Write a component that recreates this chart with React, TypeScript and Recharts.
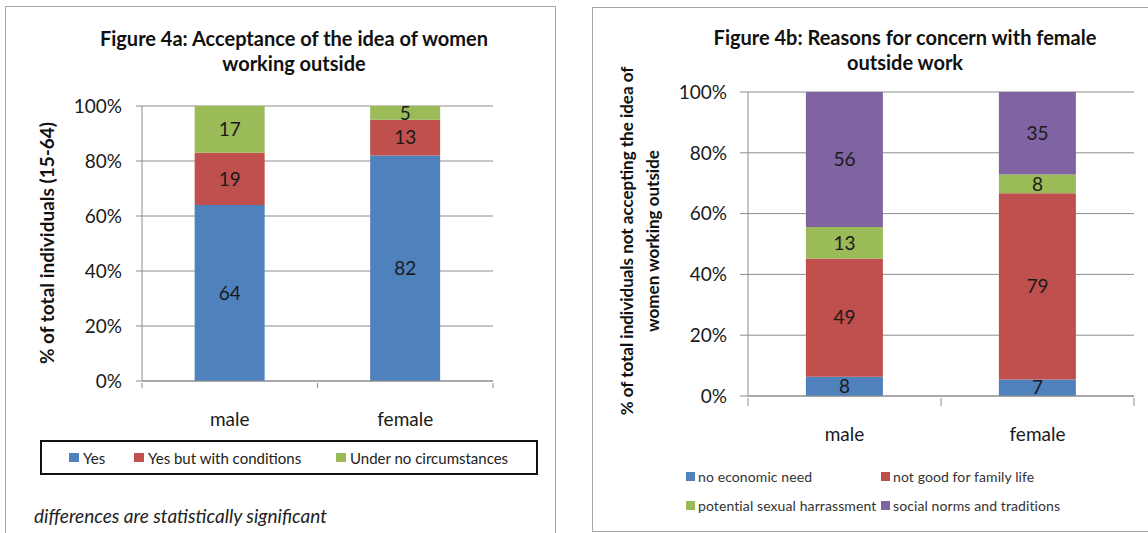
import { BarChart, Bar, XAxis, YAxis, CartesianGrid, Legend, LabelList } from "recharts";

// shared categories and y ticks
const categories = ["male", "female"];
const percentTicks = [0, 0.2, 0.4, 0.6, 0.8, 1];

// Figure 4a
const seriesA = ["Yes", "Yes but with conditions", "Under no circumstances"];
const yesValues = [64, 82];
const conditionValues = [19, 13];
const neverValues = [17, 5];

// Figure 4b (multiple answers, bars drawn as 100% stacks)
const seriesB = ["no economic need", "not good for family life", "potential sexual harrassment", "social norms and traditions"];
const noNeedValues = [8, 7];
const familyValues = [49, 79];
const harassValues = [13, 8];
const normsValues = [56, 35];

const BLUE = "#4f81bd";
const RED = "#c0504d";
const GREEN = "#9bbb59";
const PURPLE = "#8064a2";
const GRID = "#8c8c8c";
const FONT = "Lato, 'Open Sans', sans-serif";

const dataA = categories.map((c, i) => ({
  cat: c,
  yes: yesValues[i],
  cond: conditionValues[i],
  never: neverValues[i],
}));

const dataB = categories.map((c, i) => ({
  cat: c,
  noNeed: noNeedValues[i],
  family: familyValues[i],
  harass: harassValues[i],
  norms: normsValues[i],
}));

const pct = (v: number) => `${Math.round(v * 100)}%`;

// keep legend entries in series order
const ordered = (payload: any[] | undefined, names: string[]) =>
  [...(payload || [])].sort((a, b) => names.indexOf(a.value) - names.indexOf(b.value));

// category label plus "between categories" tick marks like Excel
function CategoryTick(props: any) {
  const { x, y, payload, index, visibleTicksCount, width, tickLen } = props;
  const half = payload.offset ? payload.offset : width / visibleTicksCount / 2;
  return (
    <g>
      <line x1={x - half} x2={x - half} y1={y} y2={y + tickLen} stroke={GRID} />
      {index === visibleTicksCount - 1 && (
        <line x1={x + half} x2={x + half} y1={y} y2={y + tickLen} stroke={GRID} />
      )}
      <text x={x} y={y + 35} textAnchor="middle" dominantBaseline="central" fontSize={19} fill="#1a1a1a">
        {payload.value}
      </text>
    </g>
  );
}

const labelStyle = { fontSize: 19, fill: "#1a1a1a" };

function LegendA({ payload }: any) {
  const widths = [65, 202, 200];
  return (
    <div
      style={{
        border: "2px solid #111",
        width: 498,
        height: 35,
        boxSizing: "border-box",
        display: "flex",
        alignItems: "center",
        paddingLeft: 27,
        fontSize: 15,
        color: "#222",
        whiteSpace: "nowrap",
      }}
    >
      {ordered(payload, seriesA).map((p: any, i: number) => (
        <div key={p.value} style={{ width: widths[i], flexShrink: 0, display: "flex", alignItems: "center" }}>
          <span style={{ width: 10, height: 9, background: p.color, marginRight: 4, display: "inline-block", flexShrink: 0 }} />
          {p.value}
        </div>
      ))}
    </div>
  );
}

function LegendB({ payload }: any) {
  return (
    <div
      style={{
        display: "grid",
        width: 440,
        gridTemplateColumns: "195px 245px",
        gridAutoRows: "29px",
        fontSize: 14,
        color: "#333",
        letterSpacing: 0.1,
        whiteSpace: "nowrap",
      }}
    >
      {ordered(payload, seriesB).map((p: any) => (
        <div key={p.value} style={{ display: "flex", alignItems: "center" }}>
          <span style={{ width: 9, height: 9, background: p.color, marginRight: 3, display: "inline-block", flexShrink: 0 }} />
          {p.value}
        </div>
      ))}
    </div>
  );
}

const abs = (left: number, top: number, extra: any = {}) => ({ position: "absolute" as const, left, top, ...extra });

export default function App() {
  return (
    <div style={{ position: "absolute", left: 0, top: 0, width: 1148, height: 533, overflow: "hidden", background: "#fff", fontFamily: FONT }}>
      {/* panel frames */}
      <div style={abs(5, 6, { width: 549, height: 600, border: "1px solid #a6a6a6" })} />
      <div style={abs(592, 7, { width: 620, height: 523, border: "1px solid #a6a6a6" })} />

      {/* titles */}
      <div style={abs(64, 26, { width: 460, textAlign: "center", fontSize: 20, fontWeight: 700, lineHeight: "25px", color: "#111" })}>
        Figure 4a: Acceptance of the idea of women
        <br />
        working outside
      </div>
      <div style={abs(675, 25, { width: 460, textAlign: "center", fontSize: 20, fontWeight: 700, lineHeight: "25px", color: "#111" })}>
        Figure 4b: Reasons for concern with female
        <br />
        outside work
      </div>

      {/* y axis titles */}
      <div
        style={abs(46, 243, {
          transform: "translate(-50%, -50%) rotate(-90deg)",
          whiteSpace: "nowrap",
          fontSize: 19,
          fontWeight: 700,
          color: "#111",
        })}
      >
        % of total individuals (15-64)
      </div>
      <div
        style={abs(640, 241, {
          transform: "translate(-50%, -50%) rotate(-90deg)",
          whiteSpace: "nowrap",
          textAlign: "center",
          fontSize: 17,
          fontWeight: 700,
          lineHeight: "26px",
          color: "#111",
        })}
      >
        % of total individuals not accepting the idea of
        <br />
        women working outside
      </div>

      {/* Figure 4a */}
      <div style={abs(0, 0)}>
        <BarChart width={560} height={533} data={dataA} stackOffset="expand" barCategoryGap="30%" margin={{ top: 106, right: 67, bottom: 102, left: 82 }}>
          <CartesianGrid vertical={false} stroke={GRID} />
          <XAxis dataKey="cat" height={50} axisLine={{ stroke: GRID }} tickLine={false} tickSize={0} tick={<CategoryTick tickLen={5} />} />
          <YAxis
            width={60}
            domain={[0, 1]}
            ticks={percentTicks}
            tickFormatter={pct}
            axisLine={{ stroke: GRID }}
            tickLine={{ stroke: GRID }}
            tickSize={6}
            tickMargin={14}
            tick={{ fontSize: 19, fill: "#1a1a1a" }}
          />
          <Legend
            layout="horizontal"
            verticalAlign="middle"
            align="center"
            wrapperStyle={{ left: 40, top: 440, width: 498, height: 35 }}
            content={<LegendA />}
          />
          <Bar dataKey="yes" name={seriesA[0]} stackId="a" fill={BLUE} isAnimationActive={false}>
            <LabelList dataKey="yes" position="center" style={labelStyle} />
          </Bar>
          <Bar dataKey="cond" name={seriesA[1]} stackId="a" fill={RED} isAnimationActive={false}>
            <LabelList dataKey="cond" position="center" style={labelStyle} />
          </Bar>
          <Bar dataKey="never" name={seriesA[2]} stackId="a" fill={GREEN} isAnimationActive={false}>
            <LabelList dataKey="never" position="center" style={labelStyle} />
          </Bar>
        </BarChart>
      </div>

      {/* Figure 4b */}
      <div style={abs(590, 0)}>
        <BarChart width={558} height={533} data={dataB} stackOffset="expand" barCategoryGap="30%" margin={{ top: 92, right: 14, bottom: 87, left: 98 }}>
          <CartesianGrid vertical={false} stroke={GRID} />
          <XAxis dataKey="cat" height={50} axisLine={{ stroke: GRID }} tickLine={false} tickSize={0} tick={<CategoryTick tickLen={8} />} />
          <YAxis
            width={60}
            domain={[0, 1]}
            ticks={percentTicks}
            tickFormatter={pct}
            axisLine={{ stroke: GRID }}
            tickLine={{ stroke: GRID }}
            tickSize={8}
            tickMargin={13}
            tick={{ fontSize: 19, fill: "#1a1a1a" }}
          />
          <Legend
            layout="horizontal"
            verticalAlign="middle"
            align="center"
            wrapperStyle={{ left: 96, top: 462, width: 440, height: 60 }}
            content={<LegendB />}
          />
          <Bar dataKey="noNeed" name={seriesB[0]} stackId="b" fill={BLUE} isAnimationActive={false}>
            <LabelList dataKey="noNeed" position="center" style={labelStyle} />
          </Bar>
          <Bar dataKey="family" name={seriesB[1]} stackId="b" fill={RED} isAnimationActive={false}>
            <LabelList dataKey="family" position="center" style={labelStyle} />
          </Bar>
          <Bar dataKey="harass" name={seriesB[2]} stackId="b" fill={GREEN} isAnimationActive={false}>
            <LabelList dataKey="harass" position="center" style={labelStyle} />
          </Bar>
          <Bar dataKey="norms" name={seriesB[3]} stackId="b" fill={PURPLE} isAnimationActive={false}>
            <LabelList dataKey="norms" position="center" style={labelStyle} />
          </Bar>
        </BarChart>
      </div>

      <div style={abs(34, 505, { fontSize: 19, fontStyle: "italic", lineHeight: "22px", color: "#222" })}>
        differences are statistically significant
      </div>
    </div>
  );
}
